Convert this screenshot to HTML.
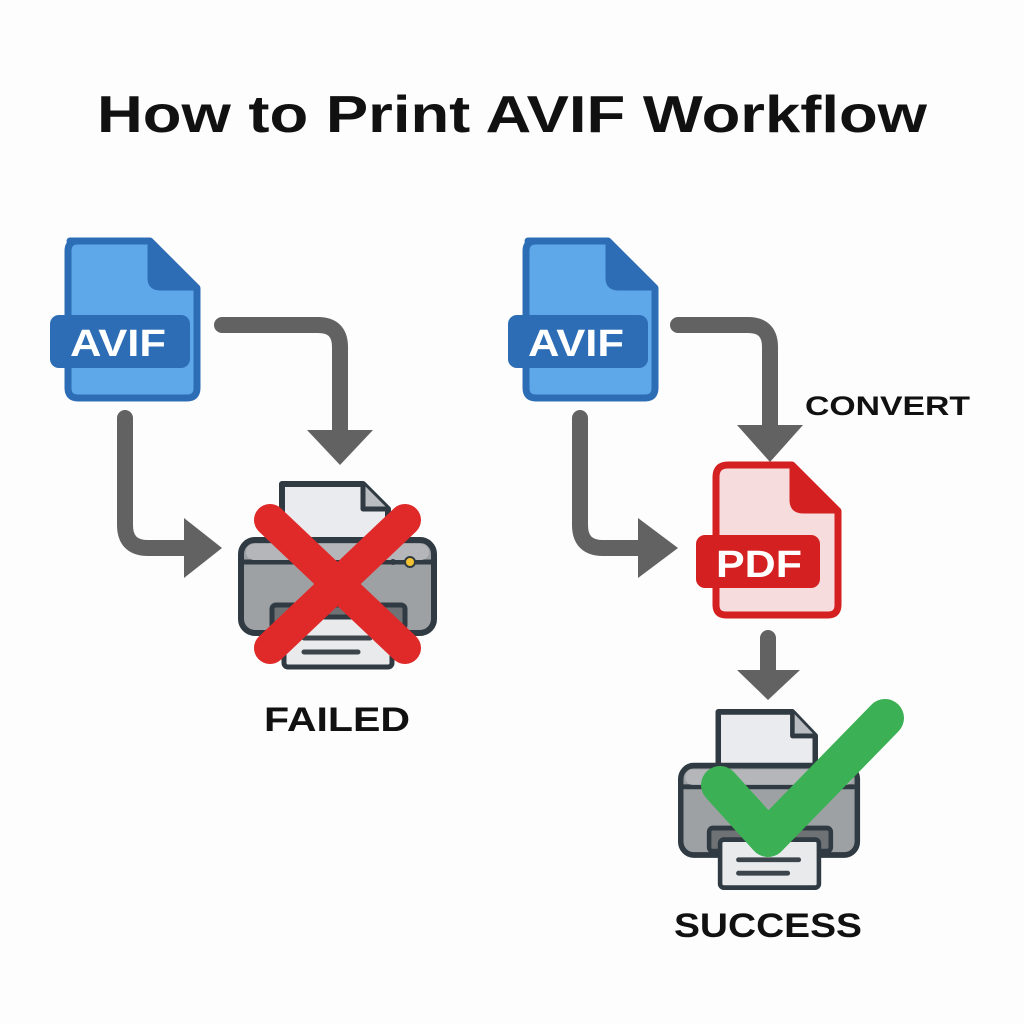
<!DOCTYPE html>
<html><head><meta charset="utf-8"><style>
html,body{margin:0;padding:0;background:#fdfdfd;}
svg{display:block}
text{font-family:"Liberation Sans",sans-serif;font-weight:bold}
</style></head><body>
<svg width="1024" height="1024" viewBox="0 0 1024 1024">
<defs>
<g id="printer">
  <path d="M44 2 H125 L150 27 V80 H44 Z" fill="#e9ebee" stroke="#2f3a42" stroke-width="6" stroke-linejoin="round"/>
  <path d="M125 2 V27 H150" fill="#b9bcc0" stroke="#2f3a42" stroke-width="5" stroke-linejoin="round"/>
  <rect x="3" y="58" width="193" height="93" rx="14" fill="#9ea1a4" stroke="#2f3a42" stroke-width="6"/>
  <path d="M6 80 H193" stroke="#2f3a42" stroke-width="5"/>
  <rect x="8" y="62" width="183" height="16" rx="8" fill="#b4b6b9"/>
  <circle cx="172" cy="80" r="5" fill="#f2c230" stroke="#2f3a42" stroke-width="2"/>
  <circle cx="155" cy="80" r="3" fill="#2f3a42"/>
  <rect x="34" y="123" width="133" height="24" rx="4" fill="#6f7275" stroke="#2f3a42" stroke-width="5"/>
  <rect x="46" y="135" width="108" height="50" rx="4" fill="#e8eaec" stroke="#2f3a42" stroke-width="5"/>
  <path d="M66 156 H132 M66 170 H120" stroke="#3d454c" stroke-width="5" stroke-linecap="round"/>
</g>
<g id="avif">
  <path d="M20 3 H100 L147 50 V150 Q147 160 137 160 H28 Q18 160 18 150 V13 Q18 3 28 3 Z" fill="#5ea7e8" stroke="#2d6db5" stroke-width="7" stroke-linejoin="round"/>
  <path d="M100 3 V40 Q100 50 110 50 H147 Z" fill="#2d6db5" stroke="#2d6db5" stroke-width="5" stroke-linejoin="round"/>
  <rect x="0" y="77" width="140" height="53" rx="9" fill="#2d6db5"/>
  <text x="20" y="118" fill="#fff" font-size="38" textLength="96" lengthAdjust="spacingAndGlyphs">AVIF</text>
</g>
</defs>

<text x="512" y="132" font-size="52" text-anchor="middle" fill="#111" textLength="830" lengthAdjust="spacingAndGlyphs">How to Print AVIF Workflow</text>

<!-- LEFT -->
<use href="#avif" x="50" y="238"/>
<path d="M222 325 H318 Q340 325 340 347 V432" fill="none" stroke="#626262" stroke-width="16" stroke-linecap="round"/>
<path d="M307 430 H373 L340 465 Z" fill="#626262"/>
<path d="M125 418 V525 Q125 548 148 548 H188" fill="none" stroke="#626262" stroke-width="16" stroke-linecap="round"/>
<path d="M184 518 V578 L222 548 Z" fill="#626262"/>
<use href="#printer" transform="translate(238,482)"/>
<path d="M270 520 L405 648 M405 520 L270 648" stroke="#e02a2a" stroke-width="32" stroke-linecap="round"/>
<text x="264" y="731" font-size="34" fill="#111" textLength="146" lengthAdjust="spacingAndGlyphs">FAILED</text>

<!-- RIGHT -->
<use href="#avif" x="508" y="238"/>
<path d="M678 325 H748 Q770 325 770 347 V428" fill="none" stroke="#626262" stroke-width="16" stroke-linecap="round"/>
<path d="M737 425 H803 L770 462 Z" fill="#626262"/>
<text x="805" y="415" font-size="27" fill="#111" textLength="165" lengthAdjust="spacingAndGlyphs">CONVERT</text>
<path d="M580 418 V525 Q580 548 603 548 H642" fill="none" stroke="#626262" stroke-width="16" stroke-linecap="round"/>
<path d="M638 518 V578 L678 548 Z" fill="#626262"/>
<!-- PDF -->
<path d="M728 465 H792 L838 511 V605 Q838 615 828 615 H726 Q716 615 716 605 V477 Q716 465 728 465 Z" fill="#f6dcdc" stroke="#d42020" stroke-width="7" stroke-linejoin="round"/>
<path d="M792 465 V500 Q792 511 803 511 H838 Z" fill="#d42020" stroke="#d42020" stroke-width="5" stroke-linejoin="round"/>
<rect x="696" y="535" width="124" height="53" rx="9" fill="#d42020"/>
<text x="716" y="577" font-size="38" fill="#fff" textLength="86" lengthAdjust="spacingAndGlyphs">PDF</text>
<path d="M768 638 V675" stroke="#626262" stroke-width="16" stroke-linecap="round"/>
<path d="M737 670 H800 L768 700 Z" fill="#626262"/>
<g transform="translate(678,710) scale(0.915,0.96)"><use href="#printer"/></g>
<path d="M720 785 L768 838 L885 718" fill="none" stroke="#3cb054" stroke-width="38" stroke-linecap="round" stroke-linejoin="round"/>
<text x="674" y="937" font-size="34" fill="#111" textLength="188" lengthAdjust="spacingAndGlyphs">SUCCESS</text>
</svg>
</body></html>
